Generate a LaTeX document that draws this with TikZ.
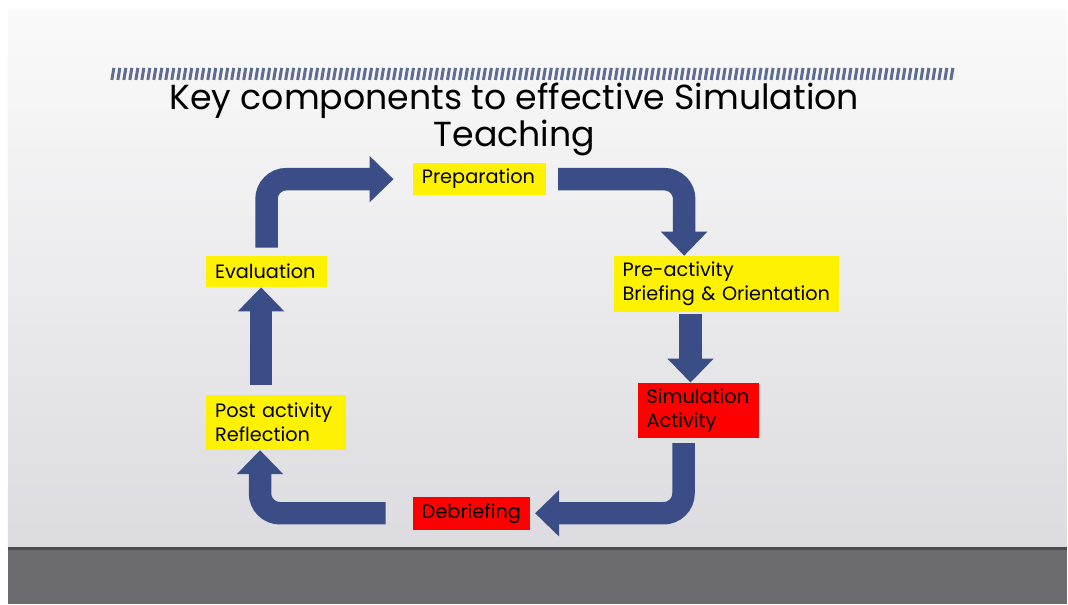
\documentclass[tikz,border=0pt]{standalone}
\usepackage{fontspec}
\setmainfont{Poppins}
\usetikzlibrary{arrows.meta}
\definecolor{arrowblue}{HTML}{3A4D87}
\definecolor{stripeblue}{HTML}{5F6D93}
\definecolor{slidetop}{HTML}{FAFAFA}
\definecolor{slidebottom}{HTML}{DCDCE0}
\definecolor{floorgrey}{HTML}{6C6C70}

\begin{document}
\begin{tikzpicture}[x=0.02cm,y=-0.02cm,
    stage/.style={fill=yellow,anchor=north west,align=left,inner xsep=0.18cm,inner ysep=0pt,
      font=\fontsize{11}{13.6}\selectfont},
    alert/.style={stage,fill=red},
    flow/.style={draw=arrowblue,line width=0.45cm,rounded corners=0.4cm,
      -{Triangle[width=0.9cm,length=0.48cm]}},
    stripe/.style={draw=stripeblue,line width=0.06cm}]
  % slide and floor
  \fill[white] (0,0) rectangle (1068,605);
  \shade[top color=slidetop,bottom color=slidebottom] (8,11) rectangle (1068,549);
  \fill[floorgrey] (8,549) rectangle (1068,605);
  \draw[black!70,line width=0.05cm] (8,549) -- (1068,549);
  % hatched bar
  \foreach \i in {0,...,140}
    \draw[stripe] (112+6*\i,80) -- ++(2,-12);
  % title
  \node[anchor=base,font=\fontsize{19.8}{22}\selectfont] (title) at (515,110) {Key components to effective Simulation};
  \node[anchor=base,font=\fontsize{19.8}{22}\selectfont] (subtitle) at (515,147) {Teaching};
  % stages
  \node[stage,text width=2.30cm,minimum height=0.64cm] (prep) at (413,163) {Preparation};
  \node[stage,text width=4.16cm,minimum height=1.12cm] (brief) at (614,256) {Pre-activity\\Briefing \& Orientation};
  \node[alert,text width=2.08cm,minimum height=1.10cm] (sim) at (638,383) {Simulation\\Activity};
  \node[alert,text width=1.98cm,minimum height=0.66cm] (debrief) at (413,497) {Debriefing};
  \node[stage,text width=2.44cm,minimum height=1.10cm] (post) at (206,395) {Post activity\\Reflection};
  \node[stage,text width=2.06cm,minimum height=0.62cm] (eval) at (206,256) {Evaluation};
  % cycle
  \draw[flow,shorten <=0.16cm,shorten >=0.38cm] (eval.north) |- (prep.west);
  \draw[flow,shorten <=0.24cm] (prep.east) -| ([xshift=1.42cm]brief.north west);
  \draw[flow,shorten <=0.04cm] ([xshift=-0.16cm]sim.north |- brief.south) -- ([xshift=-0.16cm]sim.north);
  \draw[flow,shorten <=0.1cm,shorten >=0.1cm] ([xshift=-0.3cm]sim.south) |- (debrief.east);
  \draw[flow,shorten <=0.54cm] (debrief.west) -| ([xshift=-0.32cm]post.south);
  \draw[flow,shorten <=0.2cm] ([xshift=-0.3cm]post.north) -- ([xshift=-0.3cm]post.north |- eval.south);
\end{tikzpicture}
\end{document}
